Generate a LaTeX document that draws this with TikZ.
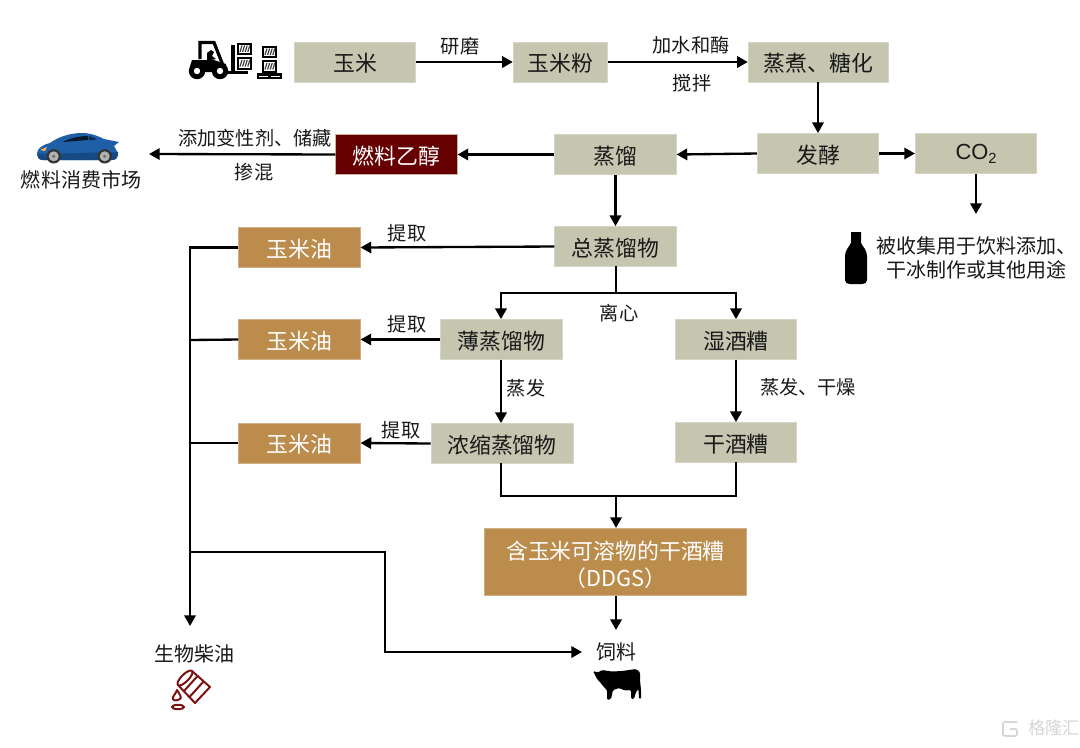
\documentclass[tikz,border=0pt]{standalone}
\usepackage{fontspec}
\setmainfont{Noto Sans CJK SC}
\newfontfamily\latinfont{Liberation Sans}
\usetikzlibrary{arrows.meta}
\tikzset{
  x=0.75pt,y=-0.75pt,
  basebox/.style={inner sep=0pt,font=\fontsize{16.4pt}{19pt}\selectfont,text=black!90,align=center,draw=#1,line width=0.6pt},
  grey/.style={basebox=boxedge,fill=boxgrey},
  tan/.style={basebox=tanedge,fill=boxtan,text=white},
  wine/.style={basebox=wineedge,fill=boxwine,text=white},
  wide/.style={minimum width=91pt,minimum height=30pt},
  low/.style={text height=14.8pt,text depth=0pt},
  lab/.style={inner sep=0pt,font=\fontsize{14.4pt}{18pt}\selectfont,text=black!90,align=center},
  bigl/.style={inner sep=0pt,font=\fontsize{15pt}{18pt}\selectfont,text=black!90,align=center},
  flow/.style={line width=1.75pt,draw=black,-{Triangle[length=8pt,width=8.5pt]}},
  plain/.style={line width=1.75pt,draw=black},
  jn/.style={line width=1.75pt,draw=black,line cap=rect},
}
\definecolor{boxgrey}{HTML}{C5C5B0}
\definecolor{boxedge}{HTML}{D6D6C6}
\definecolor{boxtan}{HTML}{BC8C4C}
\definecolor{tanedge}{HTML}{CDB08A}
\definecolor{boxwine}{HTML}{660000}
\definecolor{wineedge}{HTML}{C8B49A}
\definecolor{carblue}{HTML}{1F5FA8}
\definecolor{cardark}{HTML}{174A85}
\definecolor{oilred}{HTML}{7A1414}
\newcommand{\crate}[2]{%
  \fill[black] (#1,#2) rectangle ++(15,12.5);
  \fill[white] (#1+2,#2+2) rectangle ++(11,8.5);
  \foreach \sx in {0,2.6,5.2,7.8}{\draw[black!75,line width=0.9pt] (#1+3+\sx,#2+9.5) -- (#1+5+\sx,#2+3);}
}
\begin{document}
\begin{tikzpicture}
\useasboundingbox (0,0) rectangle (1080,747);
\fill[white] (0,0) rectangle (1080,747);
% boxes
\node[grey,wide,low] (corn) at (355,62) {玉米};
\node[grey,low,minimum width=71pt,minimum height=30pt] (flour) at (560.5,62) {玉米粉};
\node[grey,low,minimum width=105.5pt,minimum height=30pt] (cook) at (818.5,62) {蒸煮、糖化};
\node[grey,wide,low] (ferm) at (818,153.5) {发酵};
\node[grey,wide,font=\latinfont\fontsize{16.4pt}{19pt}\selectfont] (co2) at (976,153.5) {CO\raisebox{-3pt}{\fontsize{11pt}{12pt}\selectfont 2}};
\node[grey,wide,low] (dist) at (615.5,154.5) {蒸馏};
\node[wine,wide,low] (eth) at (396.5,154.5) {燃料乙醇};
\node[grey,wide,low] (whole) at (615.5,246.5) {总蒸馏物};
\node[tan,wide,low] (oila) at (299.5,247.5) {玉米油};
\node[grey,wide,low] (thin) at (501.5,339.5) {薄蒸馏物};
\node[grey,wide,low] (wet) at (736,339.5) {湿酒糟};
\node[tan,wide,low] (oilb) at (299.5,339.5) {玉米油};
\node[tan,wide,low] (oilc) at (299.5,443) {玉米油};
\node[grey,low,minimum width=106.5pt,minimum height=30pt] (conc) at (502,443.5) {浓缩蒸馏物};
\node[grey,wide,low] (dry) at (736,442.5) {干酒糟};
\node[tan,minimum width=197pt,minimum height=50.5pt,font=\fontsize{16.4pt}{20.5pt}\selectfont] (ddgs) at (615.5,562) {\rule{0pt}{18pt}含玉米可溶物的干酒糟\\（DDGS）};
% labels
\node[lab] (l1) at (460,46) {研磨};
\node[lab] (l2) at (691,45) {加水和酶};
\node[lab] (l3) at (692,83) {搅拌};
\node[lab] (l4) at (255,138) {添加变性剂、储藏};
\node[lab] (l5) at (254,172) {掺混};
\node[bigl] (market) at (81,180) {燃料消费市场};
\node[lab] (l6) at (407,233) {提取};
\node[lab] (l7) at (407,324) {提取};
\node[lab] (l8) at (401,430) {提取};
\node[lab] (l9) at (619,313) {离心};
\node[lab] (l10) at (526,388) {蒸发};
\node[lab] (l11) at (808,387) {蒸发、干燥};
\node[bigl] (biod) at (194,654) {生物柴油};
\node[bigl] (feed) at (616,652) {饲料};
\node[bigl] (co2use) at (976,258) {被收集用于饮料添加、\\干冰制作或其他用途};
% free ends and junctions
\coordinate (carend) at (149,154);
\coordinate (co2end) at (976,214);
\coordinate (split) at (616,293);
\coordinate (spl) at (501,293);
\coordinate (spr) at (736,293);
\coordinate (mergel) at (501,496);
\coordinate (merger) at (736,496);
\coordinate (merge) at (616,496);
\coordinate (busTop) at (190,247.5);
\coordinate (busB) at (190,340);
\coordinate (busC) at (190,443);
\coordinate (busEnd) at (190,626);
\coordinate (busD) at (190,552);
\coordinate (k1) at (385,552);
\coordinate (k2) at (385,652);
\coordinate (feedend) at (582,652);
\coordinate (feedtop) at (616,630);
% connectors
\draw[flow] (corn) -- (flour);
\draw[flow] (flour) -- (cook);
\draw[flow] (cook.south -| ferm) -- (ferm.north);
\draw[flow] (ferm.west) -- (dist.east);
\draw[flow] (ferm) -- (co2);
\draw[flow] (co2.south) -- (co2end);
\draw[flow] (dist) -- (eth);
\draw[flow] (eth.west) -- (carend);
\draw[flow] (dist) -- (whole);
\draw[flow] (whole.west) -- (oila.east);
\draw[jn] (whole.south -| split) -- (split);
\draw[flow] (split) -- (spl) -- (thin.north -| spl);
\draw[flow] (split) -- (spr) -- (wet.north);
\draw[flow] (thin) -- (oilb);
\draw[flow] (thin.south -| spl) -- (conc.north -| spl);
\draw[flow] (wet) -- (dry);
\draw[flow] (conc.west) -- (oilc.east);
\draw[jn] (conc.south -| mergel) -- (mergel) -- (merger) -- (dry.south);
\draw[flow] (merge) -- (ddgs.north -| merge);
\draw[flow] (ddgs.south -| merge) -- (feedtop);
\draw[flow] (oila.west) -- (busTop) -- (busEnd);
\draw[plain] (oilb.west) -- (busB);
\draw[plain] (oilc.west) -- (busC);
\draw[flow] (busD) -- (k1) -- (k2) -- (feedend);
% forklift
\draw[black,line width=2.4pt,line join=miter] (200,59) -- (200,42.5) -- (214,42.5) -- (224,68);
\fill[black] (190,66) -- (192,60) -- (214,60) -- (226,64) -- (226,72) -- (190,72) -- cycle;
\fill[black] (207,53) -- (211,50) -- (214,52) -- (212,56) -- (216,59) -- (207,61) -- cycle;
\fill[black] (230.5,45) rectangle (234.5,74);
\fill[black] (226,71) rectangle (248,74);
\fill[black] (197,71) circle (8.2); \fill[white] (197,71) circle (3.2);
\fill[black] (220,71) circle (8.2); \fill[white] (220,71) circle (3.2);
\crate{237}{42.5}
\crate{237}{57}
\crate{262}{45.5}
\crate{262}{60}
\fill[black] (257,73) rectangle (282,79);
\fill[white] (259,75.5) rectangle (268,77);
\fill[white] (271,75.5) rectangle (280,77);
% car
\fill[carblue] (37,153) .. controls (38,148) and (42,145) .. (50,143) .. controls (58,137) and (70,133) .. (82,133) .. controls (92,133) and (100,137) .. (104,139) -- (119,142) -- (114,146) -- (118,153) .. controls (118,158) and (116,160) .. (112,160) -- (43,160) .. controls (39,160) and (37,158) .. (37,153) -- cycle;
\fill[cardark] (38,154) -- (118,152) .. controls (118,158) and (116,160) .. (112,160) -- (43,160) .. controls (39,160) and (38,158) .. (38,154) -- cycle;
\fill[black!75!carblue] (63,142) .. controls (70,138) and (80,136) .. (88,136) -- (88,140) -- cycle;
\fill[black!55!carblue] (89,136) -- (97,139) -- (93,140) -- (89,140) -- cycle;
\fill[orange!60!white] (40,150) -- (47,147) -- (45,151) -- cycle;
\foreach \wx in {53.7,104.7}{
  \fill[black!80] (\wx,156.3) circle (7.2);
  \fill[black!30] (\wx,156.3) circle (5);
  \fill[black!55] (\wx,156.3) circle (1.8);
}
% bottle
\fill[black] (851,232) -- (861,232) -- (861,243) .. controls (863,247) and (867,250) .. (867,256) -- (867,280) .. controls (867,283) and (865,284) .. (862,284) -- (850,284) .. controls (847,284) and (845,283) .. (845,280) -- (845,256) .. controls (845,250) and (849,247) .. (851,243) -- cycle;
% oil barrel
\begin{scope}[draw=oilred,line width=1.5pt,line join=round]
\draw (192,671) -- (210,687) -- (195,703) -- (178,685);
\draw[rotate around={45:(185,678)}] (185,678) ellipse (10 and 3.6);
\draw (184,691) -- (198,675.5);
\draw (189.5,697) -- (204,681);
\draw (177,690) .. controls (180,695) and (182,697) .. (180,699) .. controls (178,701) and (174,701) .. (173,699) .. controls (172,697) and (175,695) .. (177,690) -- cycle;
\draw (178,707) ellipse (6 and 2.2);
\end{scope}
% cow
\fill[black,rounded corners=1pt] (593,671) -- (598,672.5) -- (602,670) -- (612,671.5) -- (622,671) -- (636,669) -- (640,672) -- (640,680) -- (641,690) -- (641,699) -- (639,699) -- (638.5,689) -- (636,692) -- (634,699) -- (631,699) -- (631,690) -- (625,690.5) -- (619,688) -- (613,690) -- (611,699) -- (607,700) -- (607,690) -- (603,686) -- (600,682) -- (597,679) -- (595,675) -- cycle;
% watermark
\node[inner sep=0pt,text=black!16,font=\fontsize{13pt}{15pt}\selectfont] (wm) at (1054,728) {格隆汇};
\draw[black!16,line width=1.3pt,rounded corners=1.5pt] (1017,722) -- (1003,722) -- (1003,736) -- (1017,736) -- (1017,729) -- (1010,729);
\end{tikzpicture}
\end{document}
